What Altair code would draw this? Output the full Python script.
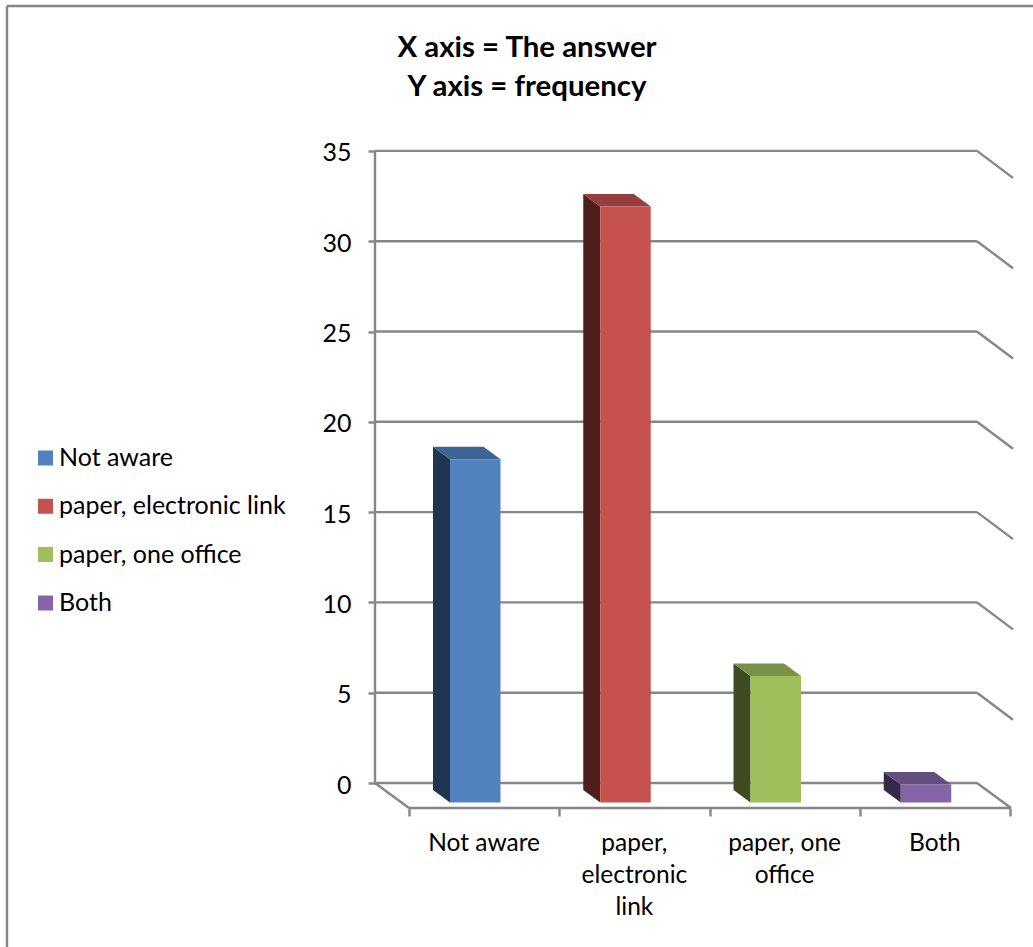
import altair as alt
import pandas as pd

# Survey results
categories = ["Not aware", "paper, electronic link", "paper, one office", "Both"]
axis_labels = ["Not aware", "paper,\nelectronic\nlink", "paper, one\noffice", "Both"]
frequency = [19, 33, 7, 1]
y_ticks = [0, 5, 10, 15, 20, 25, 30, 35]
title_lines = ["X axis = The answer", "Y axis = frequency"]

# Face colours for the extruded columns
front_colors = ["#5283C0", "#C5524E", "#9FBE5C", "#8565A5"]
side_colors = ["#1F3550", "#4F1F1E", "#3F4C22", "#342949"]
top_colors = ["#3E6594", "#963E3C", "#7A9245", "#644E7F"]

# Canvas and scale calibration
W, H = 1033, 947
PX_PER_CAT = 150.25
PX_PER_UNIT = 18.06
ORIGIN_X, ORIGIN_Y = 409.0, 783.0   # front floor corner x, wall zero y
x_domain = [-ORIGIN_X / PX_PER_CAT, (W - ORIGIN_X) / PX_PER_CAT]
y_domain = [(ORIGIN_Y - H) / PX_PER_UNIT, ORIGIN_Y / PX_PER_UNIT]

# Oblique projection expressed in data units
WALL_DX = -34 / PX_PER_CAT          # floor depth, horizontally
WALL_DY = -25 / PX_PER_UNIT         # floor depth, vertically
RETURN_DX = 36 / PX_PER_CAT         # slanted wall returns at the right edge
RETURN_DY = -27 / PX_PER_UNIT
WALL_LEFT = WALL_DX
WALL_RIGHT = 568 / PX_PER_CAT
SIDE_DX = -17 / PX_PER_CAT          # column depth, horizontally
SIDE_DY = 12.5 / PX_PER_UNIT        # column depth, vertically
BAR_START = 41 / PX_PER_CAT
BAR_WIDTH = 50.5 / PX_PER_CAT
BAR_BASE = -19.5 / PX_PER_UNIT      # front edge of the columns on the floor

xs = alt.Scale(domain=x_domain, nice=False, zero=False)
ys = alt.Scale(domain=y_domain, nice=False, zero=False)


def X(field, axis=None):
    return alt.X(field, type="quantitative", scale=xs, axis=axis, title=None)


def Y(field, axis=None):
    return alt.Y(field, type="quantitative", scale=ys, axis=axis, title=None, stack=None)


front_rows, side_rows, top_rows = [], [], []
for i, (cat, v) in enumerate(zip(categories, frequency)):
    left = i + BAR_START
    right = left + BAR_WIDTH
    top = BAR_BASE + v
    front_rows.append(dict(cat=cat, x=left, x2=right, y=BAR_BASE, y2=top))
    side_rows += [
        dict(cat=cat, c=side_colors[i], x=left + SIDE_DX, y=top + SIDE_DY, y2=BAR_BASE + SIDE_DY),
        dict(cat=cat, c=side_colors[i], x=left, y=top, y2=BAR_BASE),
    ]
    top_rows += [
        dict(cat=cat, c=top_colors[i], y=top + SIDE_DY, x=left + SIDE_DX, x2=right + SIDE_DX),
        dict(cat=cat, c=top_colors[i], y=top, x=left, x2=right),
    ]

GRID = "#868686"
LINE_W = 2.4

# Back wall: one horizontal line per tick plus its slanted return at the right
grid_df = pd.DataFrame({"v": y_ticks})
grid_df["a"] = WALL_LEFT
grid_df["b"] = WALL_RIGHT
grid_df["d"] = WALL_RIGHT + RETURN_DX
grid_df["w"] = grid_df["v"] + RETURN_DY

grid = alt.Chart(grid_df).mark_rule(color=GRID, strokeWidth=LINE_W).encode(
    x=X("a"), x2="b", y=Y("v"))
returns = alt.Chart(grid_df[grid_df.v > 0]).mark_rule(color=GRID, strokeWidth=LINE_W).encode(
    x=X("b"), x2="d", y=Y("v"), y2="w")

# Floor outline and the vertical edge of the wall
floor_df = pd.DataFrame([
    dict(x=WALL_LEFT, x2=0, y=0, y2=WALL_DY),
    dict(x=0, x2=WALL_RIGHT - WALL_DX, y=WALL_DY, y2=WALL_DY),
    dict(x=WALL_RIGHT, x2=WALL_RIGHT - WALL_DX, y=0, y2=WALL_DY),
    dict(x=WALL_LEFT, x2=WALL_LEFT, y=0, y2=max(y_ticks)),
])
floor = alt.Chart(floor_df).mark_rule(color=GRID, strokeWidth=LINE_W).encode(
    x=X("x"), x2="x2", y=Y("y"), y2="y2")

# Real axes carrying the ticks and numeric labels
y_axis = alt.Axis(
    values=y_ticks, orient="left", offset=-(ORIGIN_X + WALL_DX * PX_PER_CAT),
    domain=False, grid=False, tickColor=GRID, tickWidth=LINE_W, tickSize=7,
    labelFont="Lato", labelFontSize=25, labelColor="#000000", labelPadding=17, labelOffset=2,
)
x_axis = alt.Axis(
    values=list(range(len(categories) + 1)), orient="bottom",
    offset=-(H - ORIGIN_Y + WALL_DY * PX_PER_UNIT),
    domain=False, grid=False, labels=False, tickColor=GRID, tickWidth=LINE_W, tickSize=8,
)
axes = alt.Chart(grid_df).mark_point(opacity=0).encode(
    x=X("a", axis=x_axis), y=Y("v", axis=y_axis))

# Column faces
sides = alt.Chart(pd.DataFrame(side_rows)).mark_area().encode(
    x=X("x"), y=Y("y"), y2="y2", detail="cat:N",
    color=alt.Color("c:N", scale=None))
tops = alt.Chart(pd.DataFrame(top_rows)).mark_area(orient="horizontal").encode(
    y=Y("y"), x=X("x"), x2="x2", detail="cat:N",
    color=alt.Color("c:N", scale=None))
fronts = alt.Chart(pd.DataFrame(front_rows)).mark_rect().encode(
    x=X("x"), x2="x2", y=Y("y"), y2="y2",
    color=alt.Color(
        "cat:N",
        scale=alt.Scale(domain=categories, range=front_colors),
        legend=alt.Legend(
            title=None, orient="none", legendX=33, legendY=444,
            symbolType="square", symbolSize=225, symbolStrokeWidth=0,
            labelFont="Lato", labelFontSize=25, labelColor="#000000",
            labelOffset=1, clipHeight=28, rowPadding=20.3, labelLimit=300,
        ),
    ),
)

# Category names under the floor
cat_df = pd.DataFrame({"x": [i + 0.5 for i in range(len(categories))], "t": axis_labels})
cat_text = alt.Chart(cat_df).mark_text(
    font="Lato", fontSize=24.5, color="#000000", baseline="top", align="center",
    lineBreak="\n", lineHeight=32,
).encode(x=X("x"), y=alt.value(832), text="t:N")

# Two-line heading
head_df = pd.DataFrame({"t": ["\n".join(title_lines)]})
heading = alt.Chart(head_df).mark_text(
    font="Lato", fontSize=29.4, fontWeight="bold", color="#000000", baseline="top",
    align="center", lineBreak="\n", lineHeight=39,
).encode(x=alt.value(527), y=alt.value(34), text="t:N")

# Outer frame along the top and left edges
frame_top = alt.Chart(pd.DataFrame({"k": [0]})).mark_rule(color=GRID, strokeWidth=LINE_W).encode(
    x=alt.value(7), x2=alt.value(W), y=alt.value(6))
frame_left = alt.Chart(pd.DataFrame({"k": [0]})).mark_rule(color=GRID, strokeWidth=LINE_W).encode(
    x=alt.value(7), y=alt.value(6), y2=alt.value(H))

chart = alt.layer(
    axes, frame_top, frame_left, floor, grid, returns,
    sides, tops, fronts, cat_text, heading,
).resolve_scale(color="independent").resolve_axis(x="independent", y="independent").properties(
    width=W, height=H, padding=0, autosize=alt.AutoSizeParams(type="none"),
    background="#FFFFFF",
).configure_view(stroke=None)

chart.save("out.html", embed_options={"renderer": "svg", "actions": False})
